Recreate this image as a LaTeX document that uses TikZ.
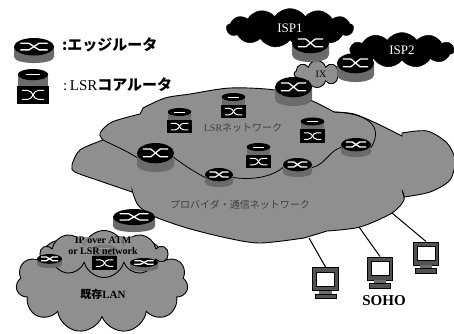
\documentclass[tikz,border=0pt]{standalone}
\usepackage{fontspec}
\setmainfont{Liberation Serif}
\newfontfamily\cjk{Noto Sans CJK JP}
\usetikzlibrary{shapes.geometric,shapes.symbols}
\definecolor{dither}{gray}{0.56}
\definecolor{bodygray}{gray}{0.42}
\definecolor{framegray}{gray}{0.32}
\definecolor{dimtext}{gray}{0.25}

\begin{document}
\begin{tikzpicture}[
  x=1pt, y=-1pt,
  cloudfill/.style={draw=black, line width=0.9pt, fill=dither},
  puff/.style={cloud, draw=black, line width=0.9pt, fill=dither, inner sep=0pt},
  darkpuff/.style={cloud, draw=black, fill=black, text=white, inner sep=0pt,
                   font=\fontsize{13}{13}\selectfont},
  ringline/.style={line width=0.8pt},
  tail/.style={line width=1pt},
  pics/edgerouter/.style 2 args={code={
    \node[minimum width=#1pt, minimum height=#2pt, inner sep=0pt, outer sep=0pt] (-box) {};
    \begin{scope}[xscale=#1/2, yscale=#2/2]
      \path[fill=bodygray] (-1,-.4) -- (-1,.5) .. controls (-1,1.17) and (1,1.17) .. (1,.5) -- (1,-.4) -- cycle;
      \path[fill=black] (0,-.3) ellipse[x radius=1, y radius=.7];
      \draw[white, line width=1.3pt] (-.68,-.58) -- (-.25,-.58) -- (.25,-.05) -- (.68,-.05);
      \draw[white, line width=1.3pt] (-.68,-.05) -- (-.25,-.05) -- (.25,-.58) -- (.68,-.58);
    \end{scope}}},
  pics/corerouter/.style 2 args={code={
    \node[minimum width=#1pt, minimum height=#2pt, inner sep=0pt, outer sep=0pt] (-box) {};
    \begin{scope}[xscale=#1/2, yscale=#2/2]
      \path[fill=bodygray] (-.95,-.75) rectangle (.95,.1);
      \path[fill=black] (0,-.68) ellipse[x radius=.95, y radius=.32];
      \draw[white, line width=.4pt] (-.45,-.68) -- (.45,-.68);
      \path[fill=black] (-1,-.05) rectangle (1,1);
      \draw[white, line width=1pt] (-.7,.22) -- (-.35,.22) .. controls (.05,.22) and (-.05,.74) .. (.35,.74) -- (.7,.74);
      \draw[white, line width=1pt] (-.7,.74) -- (-.35,.74) .. controls (.05,.74) and (-.05,.22) .. (.35,.22) -- (.7,.22);
    \end{scope}}},
  pics/monitor/.style={code={
    \node[minimum width=27pt, minimum height=32pt, inner sep=0pt, outer sep=0pt] (-box) {};
    \begin{scope}[xscale=13.5, yscale=16]
      \draw[fill=framegray, line width=.9pt] (-.95,-.95) rectangle (.95,.48);
      \draw[fill=white, line width=.7pt] (-.66,-.68) rectangle (.66,.2);
      \path[fill=bodygray] (-.45,.48) rectangle (.45,.7);
      \draw[fill=framegray, line width=.6pt] (-.78,.7) rectangle (.78,.97);
    \end{scope}}}
]
\useasboundingbox (0,0) rectangle (454,333);

\node[darkpuff, cloud puffs=13, cloud puff arc=110, aspect=3.2, minimum width=127pt, minimum height=39pt] (ispone) at (290,28) {ISP1};
\node[darkpuff, cloud puffs=11, cloud puff arc=110, aspect=3, minimum width=104pt, minimum height=35pt] (isptwo) at (402,50) {ISP2};
\node[puff, cloud puffs=8, aspect=1.6, minimum width=46pt, minimum height=27pt] (ixcloud) at (317,74) {};
\node at (321,74) (ixlabel) {\fontsize{10}{10}\selectfont IX};

\path[cloudfill]
  plot[smooth] coordinates {(103,140) (100,133) (112,122) (140,114)}
  -- plot[smooth] coordinates {(143,108) (165,98) (190,94) (230,88) (275,90) (310,100) (334,112)}
  -- plot[smooth] coordinates {(334,112) (354,114) (378,124) (402,136)}
  -- plot[smooth] coordinates {(402,133) (427,131) (447,143) (455,160) (450,180) (430,192) (404,197)}
  -- plot[smooth] coordinates {(402,190) (404,200) (392,213) (360,227) (327,231)}
  -- plot[smooth] coordinates {(304,238) (260,243) (227,238) (187,228) (153,216) (138,205) (132,190)}
  -- plot[smooth] coordinates {(132,192) (97,180) (75,172) (72,165) (80,150) (103,140)}
  -- cycle;

\coordinate (lsrnotch) at (103,140);
\coordinate (tailone) at (309,238);
\coordinate (tailtwo) at (359,227);
\coordinate (tailthree) at (392,213);

\node[puff, cloud puffs=11, aspect=1.75, minimum width=172pt, minimum height=100pt] (lancloud) at (102,283) {};
\node[puff, cloud puffs=10, aspect=2.7, minimum width=126pt, minimum height=47pt] (atmcloud) at (104,254) {};

\pic (isprouter) at (310.5,47.5) {edgerouter={37}{29}};
\pic (ixrouter) at (355.5,67.5) {edgerouter={37}{29}};
\pic (toprouter) at (293.5,91.5) {edgerouter={37}{29}};
\pic (leftrouter) at (155.5,157.5) {edgerouter={37}{29}};
\pic (ringbottom) at (219,177.5) {edgerouter={28}{19}};
\pic (ringmiddle) at (297.5,167.5) {edgerouter={29}{19}};
\pic (ringright) at (356,147.5) {edgerouter={30}{19}};
\pic (lanrouter) at (134,220.5) {edgerouter={42}{23}};
\pic (lanleft) at (49.5,261) {edgerouter={25}{14}};
\pic (lanright) at (144,264.5) {edgerouter={28}{13}};

\pic (coreleft) at (179.5,120.5) {corerouter={25}{25}};
\pic (coretop) at (233.5,105.5) {corerouter={25}{25}};
\pic (coreright) at (312.5,130) {corerouter={25}{25}};
\pic (coremiddle) at (258.5,155.5) {corerouter={25}{25}};
\pic (corelan) at (104.5,257) {corerouter={25}{25}};

\pic (pcone) at (325.5,283) {monitor};
\pic (pctwo) at (380,272.5) {monitor};
\pic (pcthree) at (426,257.5) {monitor};

\draw[ringline] (lsrnotch) .. controls (115,146) and (125,150) .. (leftrouter-box.west);
\draw[ringline] (leftrouter-box.east) .. controls (185,166) and (195,172) .. (ringbottom-box.west);
\draw[ringline] (ringbottom-box.east) .. controls (250,180) and (270,178) .. (ringmiddle-box.west);
\draw[ringline] (ringmiddle-box.east) .. controls (325,165) and (330,150) .. (ringright-box.west);
\draw[ringline] (ringright-box.east) .. controls (385,125) and (365,113) .. (334,112);
\draw[tail] (tailone) -- (pcone-box.north);
\draw[tail] (tailtwo) -- (pctwo-box.north);
\draw[tail] (tailthree) -- (pcthree-box.north);

\pic (legendedge) at (34,50.5) {edgerouter={40}{25}};
\pic (legendcore) at (33,86.5) {corerouter={32}{35}};
\node[anchor=west, inner sep=0pt, font=\fontsize{15}{16}\selectfont\bfseries\cjk] (legendedgetext) at (62,45) {:エッジルータ};
\node[anchor=west, inner sep=0pt, font=\fontsize{15}{16}\selectfont] (legendcoretext) at (63,85) {:\,LSR{\cjk\bfseries コアルータ}};

\node[text=dimtext, font=\fontsize{10}{12}\selectfont] (lsrlabel) at (243,128) {LSR{\cjk ネットワーク}};
\node[text=dimtext, font=\fontsize{10}{12}\selectfont\cjk] (corelabel) at (240,205) {プロバイダ・通信ネットワーク};
\node[align=center, inner sep=0pt, fill=dither, fill opacity=.85, text opacity=1, font=\fontsize{10}{11}\selectfont\bfseries] (atmlabel) at (103,245.5) {IP over ATM\\or LSR network};
\node[font=\fontsize{11}{12}\selectfont\bfseries] (lanlabel) at (103,294) {{\cjk 既存}LAN};
\node[font=\fontsize{15}{16}\selectfont\bfseries] (soholabel) at (384,301) {SOHO};

\end{tikzpicture}
\end{document}
